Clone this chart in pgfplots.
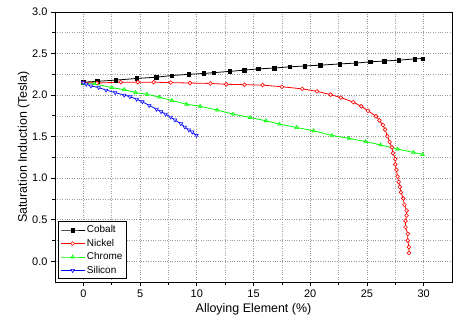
\documentclass[border=0pt]{standalone}
\usepackage{pgfplots}
\pgfplotsset{compat=1.18}
\usepackage{fontspec}
\setmainfont{Liberation Sans}
\begin{document}
\begin{tikzpicture}
\begin{axis}[
  scale only axis,
  width=397bp, height=270bp,
  xmin=-2.5, xmax=32.5, ymin=-0.25, ymax=3.0,
  xtick={0,5,...,30}, ytick={0,0.5,...,3.0},
  minor x tick num=1, minor y tick num=1,
  grid=both,
  major grid style={gray!85, dotted, line width=0.6pt},
  minor grid style={gray!75, dotted, line width=0.6pt},
  tick align=outside,
  xtick pos=left, ytick pos=left,
  major tick length=4bp, minor tick length=2.5bp,
  every tick/.style={black, line width=0.7pt},
  axis line style={black, line width=0.8pt},
  /pgf/number format/assume math mode=true,
  yticklabel style={/pgf/number format/fixed, /pgf/number format/fixed zerofill, /pgf/number format/precision=1},
  ticklabel style={font=\fontsize{11}{12}\selectfont},
  label style={font=\fontsize{12.5}{14}\selectfont},
  xlabel={Alloying Element (\%)},
  ylabel={Saturation Induction (Tesla)},
  xlabel style={yshift=1pt},
  ylabel style={yshift=-4pt},
  legend style={at={(0.008,0.011)}, anchor=south west, draw=black, line width=0.8pt,
    font=\fontsize{10}{11.5}\selectfont, inner sep=1.8pt, row sep=0.8pt, cells={anchor=west}},
  legend cell align=left,
  legend image code/.code={\draw[mark repeat=2,mark phase=2] plot coordinates {(0cm,0cm) (0.42cm,0cm) (0.84cm,0cm)};},
]
\addplot[black, line width=0.8pt, mark=square*, mark size=1.8pt, mark options={solid, fill=black, line width=0.4pt}] coordinates {
(0,2.155)(1.2,2.165)(2.85,2.18)(4.7,2.20)(6.4,2.215)(7.8,2.235)(9.3,2.25)(10.6,2.26)(11.5,2.27)(12.9,2.285)(14.2,2.30)(15.4,2.315)(16.8,2.325)(18.2,2.34)(19.5,2.35)(20.9,2.36)(22.6,2.375)(24.0,2.385)(25.3,2.40)(26.5,2.41)(27.8,2.42)(29.2,2.435)(29.9,2.44)};
\addlegendentry{Cobalt}
\addplot[red, line width=0.8pt, mark=*, mark size=1.9pt, mark options={solid, fill=white, line width=0.6pt}] coordinates {
(0,2.15)(1.2,2.145)(3.3,2.155)(4.8,2.155)(6.2,2.155)(7.7,2.15)(9.4,2.145)(11.2,2.14)(12.6,2.13)(14.2,2.125)(15.8,2.12)(17.5,2.10)(19.3,2.075)(20.6,2.045)(21.8,2.005)(22.7,1.97)(23.8,1.915)(24.5,1.865)(25.1,1.81)(25.8,1.745)(26.1,1.695)(26.4,1.64)(26.6,1.585)(26.8,1.505)(27.0,1.435)(27.2,1.37)(27.3,1.30)(27.5,1.23)(27.5,1.165)(27.6,1.10)(27.7,1.02)(27.8,0.955)(27.9,0.895)(28.0,0.83)(28.2,0.755)(28.3,0.68)(28.5,0.61)(28.5,0.55)(28.4,0.485)(28.4,0.41)(28.6,0.33)(28.6,0.25)(28.7,0.17)(28.7,0.10)};
\addlegendentry{Nickel}
\addplot[green, line width=0.8pt, mark=triangle*, mark size=2.1pt, mark options={solid, fill=green!60!white, line width=0.5pt}] coordinates {
(0,2.14)(1.0,2.135)(2.5,2.09)(3.6,2.065)(4.6,2.03)(5.6,2.01)(6.7,1.975)(7.8,1.935)(9.1,1.89)(10.3,1.865)(11.8,1.82)(13.2,1.77)(14.7,1.73)(16.1,1.69)(17.3,1.65)(18.8,1.61)(20.3,1.57)(21.9,1.515)(23.4,1.48)(24.9,1.44)(26.2,1.40)(27.7,1.35)(29.1,1.31)(29.9,1.285)};
\addlegendentry{Chrome}
\addplot[blue, line width=0.8pt, mark=triangle*, mark size=2.1pt, mark options={solid, rotate=180, fill=blue!20, line width=0.5pt}] coordinates {
(0,2.15)(0.25,2.13)(0.67,2.11)(1.35,2.09)(2.0,2.06)(2.8,2.03)(3.6,2.0)(4.1,1.98)(4.7,1.95)(5.2,1.92)(5.8,1.875)(6.45,1.83)(6.85,1.80)(7.25,1.77)(7.7,1.735)(8.07,1.70)(8.6,1.655)(8.95,1.615)(9.3,1.58)(9.6,1.555)(9.97,1.515)};
\addlegendentry{Silicon}
\end{axis}
\path (current axis.south west) ++(-55bp,-43bp) rectangle ++(454bp,325bp);
\end{tikzpicture}
\end{document}
